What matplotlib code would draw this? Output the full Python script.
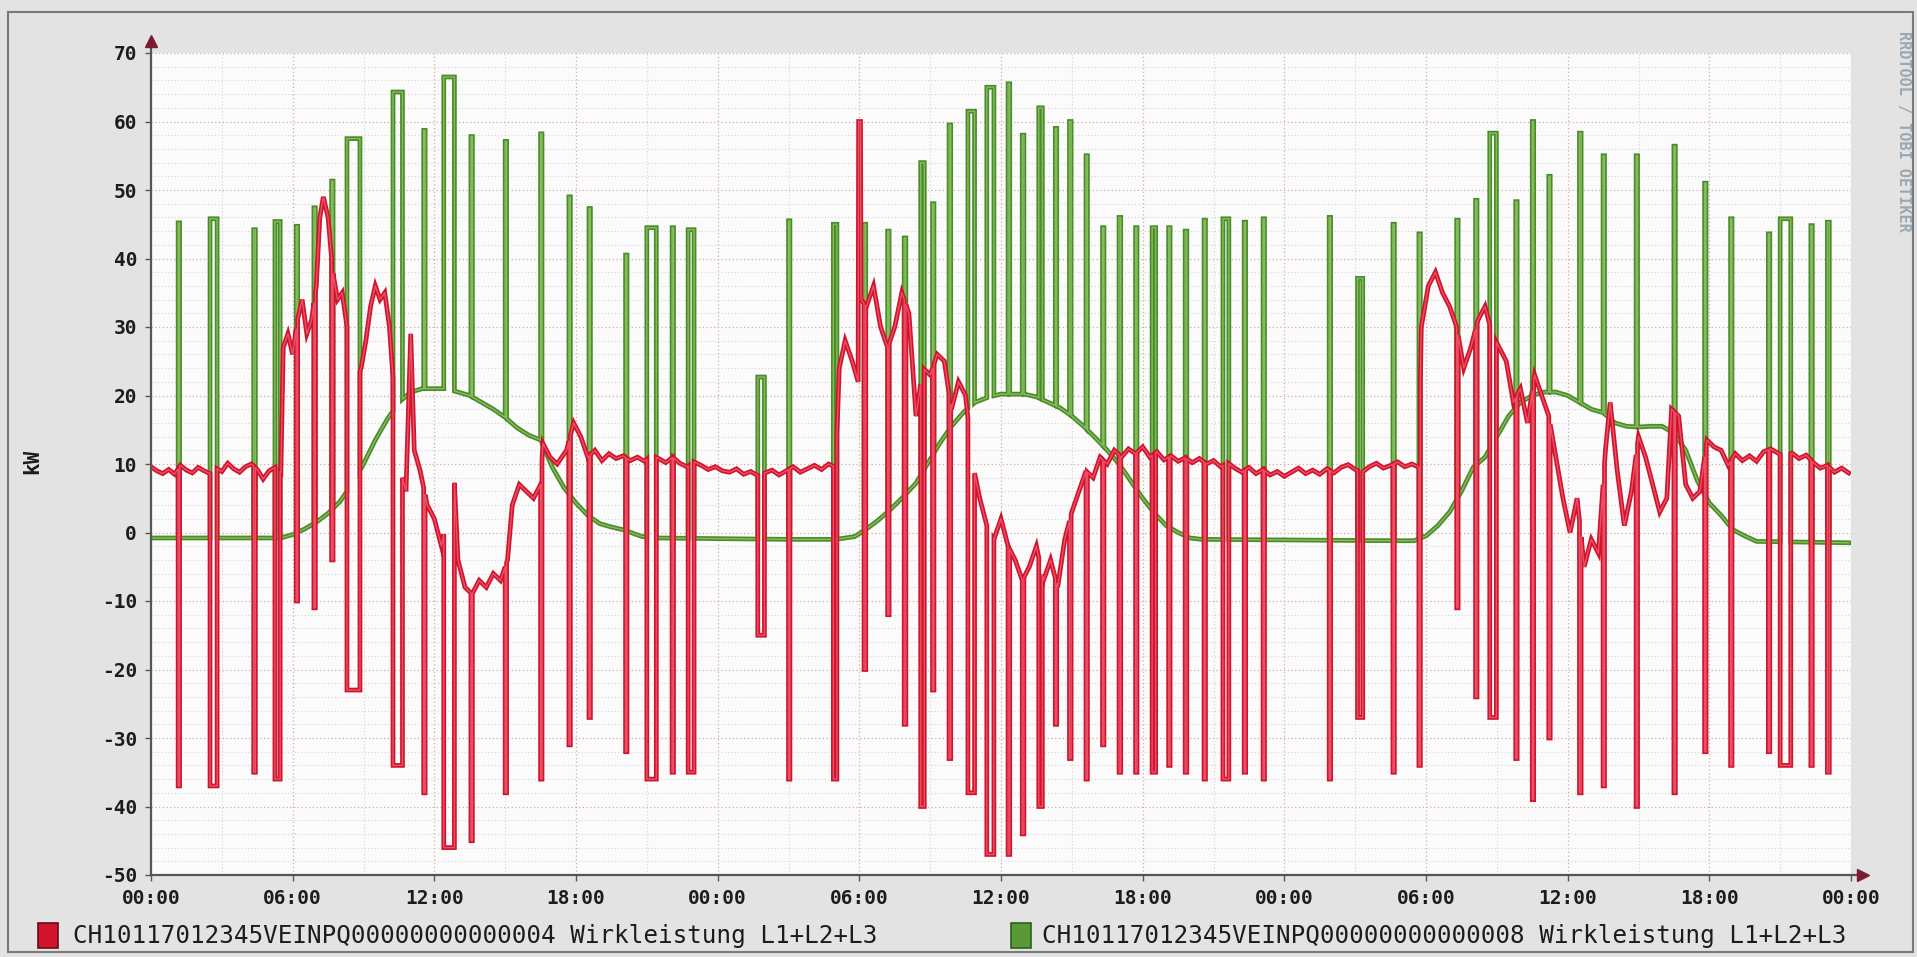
import numpy as np
import matplotlib
matplotlib.use("Agg")
import matplotlib.pyplot as plt
from matplotlib.patches import Rectangle

# Zeitachse in Stunden ab Mitternacht (3 Tage)
x_ticks = list(range(0, 73, 6))
x_labels = ["00:00", "06:00", "12:00", "18:00"] * 3 + ["00:00"]
y_ticks = list(range(-50, 71, 10))

legend_red = "CH10117012345VEINPQ00000000000004 Wirkleistung L1+L2+L3"
legend_green = "CH10117012345VEINPQ00000000000008 Wirkleistung L1+L2+L3"

# Grundverlauf Zähler 8 (grün)
green_base_t = [0, 5.5, 6.0, 6.5, 7.0, 7.5, 8.0, 8.5, 9.0, 9.5, 10.0, 10.5, 11.0, 11.5,
                12.5, 13.0, 13.5, 14.0, 14.5, 15.0, 15.5, 16.0, 16.5, 17.0, 17.5, 18.0,
                18.5, 19.0, 19.5, 20.0, 20.8, 21.5, 24.0, 27.0, 29.0, 29.8, 30.3, 30.8,
                31.3, 31.8, 32.4, 32.9, 33.4, 33.9, 34.4, 34.9, 35.5, 36.0, 37.0, 37.5,
                38.0, 38.5, 39.0, 39.5, 40.0, 40.5, 41.0, 41.5, 42.0, 42.5, 43.0, 43.5,
                44.0, 44.5, 52.5, 53.5, 54.0, 54.5, 55.0, 55.5, 56.0, 56.5, 57.0, 57.5,
                58.0, 58.5, 59.0, 59.5, 60.0, 60.5, 61.0, 61.5, 62.0, 62.5, 63.0, 63.5,
                64.0, 64.5, 65.0, 65.5, 66.0, 66.5, 67.0, 67.5, 68.0, 71.9]
green_base_v = [-0.8, -0.8, -0.3, 0.5, 1.5, 2.8, 4.5, 7.0, 10.0, 13.5, 16.5, 19.0, 20.5, 21.0,
                21.0, 20.5, 20.0, 19.0, 18.0, 16.8, 15.3, 14.2, 13.5, 9.5, 6.5, 4.3,
                2.5, 1.3, 0.8, 0.4, -0.6, -0.8, -0.9, -1.0, -1.0, -0.6, 0.5, 1.8,
                3.3, 5.0, 7.2, 10.1, 13.0, 15.5, 17.5, 19.0, 19.8, 20.2, 20.2, 19.8,
                19.0, 18.2, 17.0, 15.5, 13.8, 12.0, 10.0, 7.5, 5.0, 2.8, 1.0, 0.0,
                -0.8, -1.0, -1.2, -1.2, -0.5, 1.0, 3.0, 6.0, 9.5, 11.0, 14.0, 17.0,
                19.0, 20.0, 20.5, 20.5, 20.0, 19.0, 18.0, 17.5, 16.0, 15.5, 15.4, 15.5,
                15.5, 14.5, 12.0, 7.5, 4.3, 2.5, 0.4, -0.5, -1.3, -1.5]

# Lastspitzen Zähler 8: Beginn [h], Dauer [h], Spitzenwert [kW]
green_spike_t = [1.15, 2.5, 4.35, 5.25, 6.15, 6.9, 7.65, 8.3, 10.25, 11.55, 12.4, 13.55,
                 15.0, 16.5, 17.7, 18.55, 20.1, 21.0, 22.07, 22.75,
                 25.7, 27.0, 28.9, 30.2, 31.2, 31.9, 32.6, 33.1, 33.8, 34.6, 35.4, 36.3,
                 36.9, 37.6, 38.3, 38.9, 39.6, 40.3, 41.0, 41.7, 42.4, 43.1, 43.8,
                 44.6, 45.4, 46.3, 47.1, 49.9, 51.1, 52.6, 53.7, 55.3, 56.1, 56.7, 57.8,
                 58.5, 59.2, 60.5, 61.5, 62.9, 64.5, 65.8, 66.9, 68.5, 69.0, 70.3, 71.0]
green_spike_w = [0.06, 0.3, 0.07, 0.22, 0.06, 0.06, 0.06, 0.55, 0.4, 0.06, 0.45, 0.06,
                 0.06, 0.06, 0.06, 0.06, 0.06, 0.4, 0.06, 0.25,
                 0.28, 0.06, 0.15, 0.07, 0.06, 0.07, 0.15, 0.06, 0.07, 0.28, 0.3, 0.07,
                 0.07, 0.15, 0.06, 0.07, 0.06, 0.06, 0.07, 0.06, 0.15, 0.06, 0.07,
                 0.06, 0.25, 0.06, 0.06, 0.06, 0.22, 0.06, 0.06, 0.06, 0.06, 0.28, 0.06,
                 0.06, 0.06, 0.07, 0.06, 0.06, 0.06, 0.06, 0.06, 0.06, 0.45, 0.06, 0.08]
green_spike_v = [45.2, 45.8, 44.2, 45.4, 44.7, 47.4, 51.3, 57.5, 64.3, 58.7, 66.5, 57.8,
                 57.1, 58.2, 49.0, 47.3, 40.5, 44.5, 44.5, 44.2,
                 22.7, 45.5, 45.0, 45.0, 44.0, 43.0, 54.0, 48.0, 59.5, 61.5, 65.0, 65.5,
                 58.0, 62.0, 59.0, 60.0, 55.0, 44.5, 46.0, 44.5, 44.5, 44.5, 44.0,
                 45.6, 45.8, 45.3, 45.8, 46.0, 37.1, 45.0, 43.6, 45.6, 48.5, 58.3, 48.3,
                 60.0, 52.0, 58.3, 55.0, 55.0, 56.4, 51.0, 45.8, 43.6, 45.8, 44.8, 45.3]

# Grundverlauf Zähler 4 (rot)
red_base_t = [0.0, 0.25, 0.5, 0.75, 1.0, 1.25, 1.5, 1.75, 2.0, 2.25, 2.5, 2.75, 3.0, 3.25,
              3.5, 3.75, 4.0, 4.25, 4.5, 4.75, 5.0, 5.25, 5.5,
              5.6, 5.8, 6.0, 6.2, 6.4, 6.6, 6.8, 7.0, 7.15, 7.3, 7.5, 7.7, 7.9, 8.1, 8.3,
              8.5, 8.7, 8.9, 9.1, 9.3, 9.5, 9.7, 9.9, 10.1, 10.3, 10.5, 10.8, 11.0, 11.15,
              11.4, 11.7, 12.0, 12.3, 12.7, 12.8, 13.0, 13.3, 13.6, 13.9, 14.2, 14.5, 14.8,
              15.1, 15.3, 15.6, 15.9, 16.2, 16.5, 16.6, 16.9, 17.2, 17.6, 17.9, 18.2, 18.5,
              18.8, 19.1, 19.4, 19.7, 20.0, 20.3, 20.6, 20.9, 21.2, 21.5, 21.8, 22.1, 22.4,
              22.7, 23.0, 23.3, 23.6, 23.9, 24.2, 24.5, 24.8, 25.1, 25.4, 25.7, 26.0, 26.3,
              26.6, 26.9, 27.2, 27.5, 27.8, 28.1, 28.4, 28.7, 29.0,
              29.15, 29.4, 29.7, 29.95, 29.97, 30.05, 30.07, 30.3, 30.6, 30.9, 31.2, 31.5,
              31.8, 32.1, 32.4, 32.7, 33.0, 33.3, 33.6, 33.9, 34.2, 34.5, 34.8, 35.1, 35.4,
              35.7, 36.0, 36.3, 36.6, 36.9, 37.2, 37.5, 37.8, 38.1, 38.4, 38.7, 39.0, 39.3,
              39.6, 39.9, 40.2, 40.5, 40.8, 41.1, 41.4, 41.7, 42.0, 42.3, 42.6, 42.9, 43.2,
              43.5, 43.8, 44.1, 44.4, 44.7, 45.0, 45.3, 45.6, 45.9, 46.2, 46.5, 46.8, 47.1,
              47.4, 47.7, 48.0, 48.3, 48.6, 48.9, 49.2, 49.5, 49.8, 50.1, 50.4, 50.7, 51.0,
              51.3, 51.6, 51.9, 52.2, 52.5, 52.8, 53.1, 53.4, 53.7,
              53.8, 54.1, 54.4, 54.7, 55.0, 55.3, 55.6, 55.9, 56.2, 56.5, 56.8, 57.1, 57.4,
              57.7, 58.0, 58.3, 58.6, 58.9, 59.2, 59.5, 59.8, 60.1, 60.4, 60.7, 61.0, 61.3,
              61.6, 61.8, 62.1, 62.4, 62.7, 63.0, 63.3, 63.6, 63.9, 64.2, 64.4, 64.7, 65.0,
              65.3, 65.6, 65.9, 66.2, 66.5, 66.8, 67.1, 67.4, 67.7, 68.0, 68.3, 68.6, 68.9,
              69.2, 69.5, 69.8, 70.1, 70.4, 70.7, 71.0, 71.3, 71.6, 71.9]
red_base_v = [9.6, 9.0, 8.6, 9.2, 8.5, 9.8, 9.1, 8.7, 9.5, 9.0, 8.6, 9.4, 8.9, 10.1,
              9.3, 8.8, 9.6, 10.0, 9.2, 7.8, 9.0, 9.5, 8.8,
              27, 29, 26, 31, 34, 29, 31, 36, 46, 49, 46, 38, 34, 35, 30,
              26, 22, 24, 28, 33, 36, 34, 35, 30, 20, 10, 6, 29, 12,
              9, 4, 2, -2, 5, 11, -4, -8, -9, -7, -8, -6, -7,
              -4, 4, 7, 6, 5, 7, 13, 11, 10, 12, 16, 14, 11,
              12, 10.5, 11.5, 10.8, 11.2, 10.5, 11.0, 10.4, 11.3, 10.8, 10.2, 11.0, 10.1,
              9.6, 10.3, 9.8, 9.2, 9.6, 9.0, 8.8, 9.3, 8.5, 8.9, 8.3, 8.7, 9.1,
              8.4, 9.0, 9.6, 8.8, 9.3, 9.8, 9.2, 10.0, 9.5,
              24, 28, 25, 22, 60, 60, 34, 33, 36, 30, 27, 30,
              35, 32, 17, 24, 23, 26, 25, 18, 22, 20, 10, 5, 1,
              -1, 2, -2, -4, -7, -5, -2, -7, -4, -8, -1, 3, 6,
              9, 8, 11, 10, 12, 11, 12.2, 11.5, 12.5, 11.0, 11.8, 10.6, 11.2,
              10.4, 10.9, 10.2, 10.8, 10.0, 10.5, 9.6, 10.2, 9.4, 8.8, 9.5, 8.6, 9.2,
              8.4, 8.9, 8.2, 8.8, 9.4, 8.6, 9.1, 8.5, 9.3, 8.7, 9.5, 9.9, 9.2,
              8.8, 9.6, 10.1, 9.4, 9.8, 10.3, 9.6, 10.0, 9.5,
              30, 36, 38, 35, 33, 30, 24, 27, 31, 33, 29, 27, 25,
              19, 21, 16, 23, 20, 17, 11, 5, 0, 5, -5, -1, -3,
              12, 19, 9, 1, 6, 14, 11, 7, 3, 5, 18, 17, 7,
              5, 6, 13.5, 12.5, 12, 9.8, 11.5, 10.5, 11.2, 10.4, 11.8, 12.2, 11.6,
              11.0, 11.6, 10.8, 11.3, 10.2, 9.4, 9.8, 8.8, 9.4, 8.7]

# Einbrüche Zähler 4 (gleiche Zeitpunkte wie die Spitzen oben), Tiefstwert [kW]
red_dip_v = [-37, -37, -35, -36, -10, -11, -4, -23, -34, -38, -46, -45,
             -38, -36, -31, -27, -32, -36, -35, -35,
             -15, -36, -36, -20, -12, -28, -40, -23, -33, -38, -47, -47,
             -44, -40, -28, -33, -36, -31, -35, -35, -35, -34, -35,
             -36, -36, -35, -36, -36, -27, -35, -34, -11, -24, -27, -33,
             -39, -30, -38, -37, -40, -38, -32, -34, -32, -34, -34, -35]


def with_pulses(base_t, base_v, starts, widths, levels):
    """Setzt rechteckige Pulse auf einen Grundverlauf."""
    pts = []
    for t, v in zip(base_t, base_v):
        if any(s < t < s + w for s, w in zip(starts, widths)):
            continue
        pts.append((t, 1, v))
    for s, w, p in zip(starts, widths, levels):
        b0 = np.interp(s, base_t, base_v)
        b1 = np.interp(s + w, base_t, base_v)
        pts += [(s, 0, b0), (s, 2, p), (s + w, 0, p), (s + w, 2, b1)]
    pts.sort(key=lambda q: (q[0], q[1]))
    return [q[0] for q in pts], [q[2] for q in pts]


gt, gv = with_pulses(green_base_t, green_base_v, green_spike_t, green_spike_w, green_spike_v)
rt, rv = with_pulses(red_base_t, red_base_v, green_spike_t, green_spike_w, red_dip_v)

W, H = 1917, 957
fig = plt.figure(figsize=(W / 100, H / 100), dpi=100, facecolor="#e3e3e3")
ax = fig.add_axes([151 / W, 1 - 875 / H, 1700 / W, 822 / H])
ax.set_facecolor("#fbfbfb")

mono = "DejaVu Sans Mono"

# Raster
ax.set_xticks(np.arange(0, 73, 3), minor=True)
ax.set_yticks(np.arange(-50, 71, 2), minor=True)
ax.grid(which="minor", color="#d4d4d4", linestyle=(0, (1, 2)), linewidth=0.8)
ax.grid(which="major", color="#d8a8a8", linestyle=(0, (1, 2)), linewidth=0.9)
ax.set_axisbelow(True)

# Kurven (dunkle Kontur, hellerer Kern)
ax.plot(gt, gv, color="#4a8c2a", lw=3.4, solid_joinstyle="miter", zorder=3)
ax.plot(gt, gv, color="#86bd5c", lw=1.0, zorder=3)
ax.plot(rt, rv, color="#d0142c", lw=3.4, solid_joinstyle="miter", zorder=4)
ax.plot(rt, rv, color="#ea5068", lw=1.0, zorder=4)

ax.set_xlim(0, 72)
ax.set_ylim(-50, 70)
ax.set_xticks(x_ticks)
ax.set_xticklabels(x_labels)
ax.set_yticks(y_ticks)
ax.set_yticklabels([str(v) for v in y_ticks])
ax.tick_params(which="minor", length=0)
ax.tick_params(which="major", direction="out", length=4, width=1, color="#555555",
               labelsize=14, labelcolor="#1c1c1c", pad=6)
for lab in ax.get_xticklabels() + ax.get_yticklabels():
    lab.set_family(mono)
    lab.set_weight("bold")

# Achsen mit Pfeilspitzen
for s in ax.spines.values():
    s.set_visible(False)
ax.plot([0, 0], [0, 1.012], transform=ax.transAxes, color="#555555", lw=1.6,
        clip_on=False, zorder=5)
ax.plot([0, 1.004], [0, 0], transform=ax.transAxes, color="#555555", lw=1.6,
        clip_on=False, zorder=5)
ax.plot([0], [1.014], marker="^", ms=9, color="#7b1c34", transform=ax.transAxes,
        clip_on=False, zorder=6)
ax.plot([1.007], [0], marker=">", ms=9, color="#7b1c34", transform=ax.transAxes,
        clip_on=False, zorder=6)

fig.text(32 / W, 1 - 461 / H, "kW", rotation=90, ha="center", va="center",
         family=mono, weight="bold", fontsize=15, color="#1c1c1c")
fig.text(1903 / W, 1 - 131 / H, "RRDTOOL / TOBI OETIKER", rotation=270,
         ha="center", va="center", family=mono, weight="bold", fontsize=11,
         color="#9ba8b2")

# Legende
ly = 1 - 936 / H
fig.patches.append(Rectangle((38 / W, 1 - 948 / H), 20 / W, 25 / H, transform=fig.transFigure,
                             facecolor="#d3142e", edgecolor="#6a0a18", lw=1.2))
fig.text(73 / W, ly, legend_red, ha="left", va="center", family=mono,
         fontsize=17.5, color="#1c1c1c")
t2 = fig.text(1846 / W, ly, legend_green, ha="right", va="center", family=mono,
              fontsize=17.5, color="#1c1c1c")
fig.canvas.draw()
bb = t2.get_window_extent()
fig.patches.append(Rectangle(((bb.x0 - 31) / W, 1 - 948 / H), 20 / W, 25 / H,
                             transform=fig.transFigure, facecolor="#5a9a36",
                             edgecolor="#2f5e1c", lw=1.2))

# Rahmen
fig.patches.append(Rectangle((8 / W, 5 / H), 1905 / W, 940 / H, transform=fig.transFigure,
                             fill=False, edgecolor="#7a7a7a", lw=1.5))

fig.savefig("out.png", dpi=100, facecolor=fig.get_facecolor())
